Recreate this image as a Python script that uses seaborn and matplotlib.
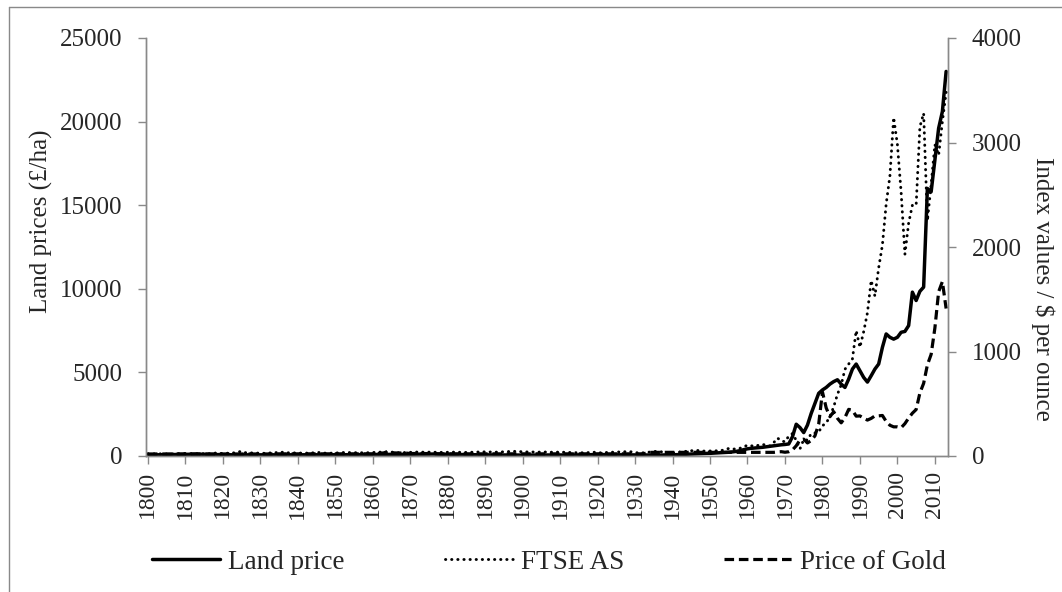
import matplotlib
matplotlib.use("Agg")
import matplotlib.pyplot as plt
import numpy as np
import pandas as pd
import seaborn as sns
from matplotlib.lines import Line2D

# one value per year, 1800-2013
years = list(range(1800, 2014))

land_price = [
    62, 66, 70, 74, 78, 82, 86, 90, 94, 98,
    102, 105, 108, 110, 108, 102, 95, 90, 88, 86,
    82, 78, 72, 70, 71, 73, 72, 71, 71, 70,
    70, 69, 68, 68, 67, 68, 69, 70, 71, 72,
    73, 74, 74, 73, 72, 73, 74, 75, 74, 73,
    72, 73, 75, 77, 79, 81, 83, 85, 87, 89,
    91, 93, 95, 97, 99, 101, 103, 105, 107, 109,
    111, 113, 115, 117, 119, 119, 117, 114, 110, 105,
    100, 96, 92, 88, 85, 82, 79, 76, 73, 71,
    69, 67, 65, 63, 61, 59, 58, 57, 57, 56,
    56, 56, 57, 57, 58, 58, 59, 59, 60, 60,
    61, 62, 63, 64, 65, 67, 70, 75, 82, 90,
    95, 90, 82, 76, 74, 72, 70, 68, 66, 64,
    62, 60, 57, 55, 54, 55, 56, 58, 60, 62,
    70, 80, 90, 100, 110, 120, 130, 140, 150, 155,
    160, 175, 190, 200, 210, 225, 245, 275, 320, 380,
    430, 460, 480, 500, 520, 550, 580, 610, 640, 670,
    690, 720, 1150, 1900, 1700, 1400, 1850, 2550, 3150, 3750,
    3950, 4100, 4300, 4450, 4560, 4300, 4100, 4600, 5200, 5500,
    5100, 4700, 4420, 4800, 5200, 5500, 6500, 7300, 7100, 6990,
    7100, 7400, 7450, 7800, 9800, 9300, 9850, 10100, 16000, 15800,
    17700, 19600, 20600, 23000,
]

ftse_as = [
    22, 21, 20, 21, 20, 19, 20, 21, 22, 23,
    24, 23, 22, 21, 23, 22, 20, 24, 28, 25,
    24, 26, 28, 30, 38, 45, 32, 30, 29, 28,
    27, 26, 28, 30, 32, 34, 36, 31, 30, 29,
    27, 26, 27, 28, 30, 34, 33, 28, 26, 27,
    28, 30, 33, 34, 32, 31, 32, 31, 30, 32,
    34, 36, 37, 38, 37, 38, 32, 31, 32, 33,
    35, 37, 38, 37, 36, 37, 36, 34, 33, 34,
    36, 37, 36, 35, 34, 34, 35, 37, 38, 40,
    39, 38, 37, 37, 38, 40, 42, 44, 44, 42,
    40, 39, 39, 38, 37, 37, 38, 37, 36, 37,
    37, 36, 35, 34, 32, 30, 31, 32, 33, 36,
    32, 30, 33, 35, 36, 38, 38, 40, 42, 40,
    34, 28, 30, 34, 38, 42, 46, 40, 36, 32,
    30, 34, 38, 42, 46, 50, 54, 52, 48, 46,
    48, 52, 48, 52, 62, 72, 66, 68, 74, 90,
    102, 98, 92, 104, 110, 105, 96, 128, 172, 145,
    136, 190, 215, 150, 68, 158, 152, 214, 220, 230,
    290, 315, 380, 470, 590, 680, 830, 880, 930, 1200,
    1040, 1190, 1370, 1680, 1530, 1800, 2020, 2410, 2680, 3240,
    2980, 2520, 1930, 2230, 2400, 2400, 3150, 3280, 2250, 2600,
    2980, 2880, 3200, 3480,
]

gold_price = [
    19.39, 19.39, 19.39, 19.39, 19.39, 19.39, 19.39, 19.39, 19.39, 19.39,
    19.39, 19.39, 19.39, 19.39, 19.39, 19.39, 19.39, 19.39, 19.39, 19.39,
    19.39, 19.39, 19.39, 19.39, 19.39, 19.39, 19.39, 19.39, 19.39, 19.39,
    19.39, 19.39, 19.39, 19.39, 20.67, 20.67, 20.67, 20.67, 20.67, 20.67,
    20.67, 20.67, 20.67, 20.67, 20.67, 20.67, 20.67, 20.67, 20.67, 20.67,
    20.67, 20.67, 20.67, 20.67, 20.67, 20.67, 20.67, 20.67, 20.67, 20.67,
    20.67, 20.67, 25.2, 30.4, 42.5, 31.7, 29.2, 28.6, 29.0, 27.6,
    23.8, 23.2, 23.6, 23.6, 23.3, 23.7, 23.1, 21.8, 20.9, 20.67,
    20.67, 20.67, 20.67, 20.67, 20.67, 20.67, 20.67, 20.67, 20.67, 20.67,
    20.67, 20.67, 20.67, 20.67, 20.67, 20.67, 20.67, 20.67, 20.67, 20.67,
    20.67, 20.67, 20.67, 20.67, 20.67, 20.67, 20.67, 20.67, 20.67, 20.67,
    20.67, 20.67, 20.67, 20.67, 20.67, 20.67, 20.67, 20.67, 20.67, 20.67,
    20.67, 20.67, 20.67, 20.67, 20.67, 20.67, 20.67, 20.67, 20.67, 20.67,
    20.67, 20.67, 20.67, 26.33, 34.69, 35.0, 35.0, 35.0, 35.0, 35.0,
    35.0, 35.0, 35.0, 35.0, 35.0, 35.0, 35.0, 35.0, 35.0, 35.0,
    35.0, 35.0, 35.0, 35.0, 35.0, 35.0, 35.0, 35.0, 35.0, 35.0,
    35.27, 35.25, 35.23, 35.09, 35.10, 35.12, 35.13, 34.95, 39.31, 41.28,
    36.02, 40.62, 58.42, 97.39, 154.0, 160.9, 124.8, 147.7, 193.2, 306.7,
    612.6, 460.0, 375.9, 424.0, 360.7, 317.4, 367.5, 446.5, 437.0, 381.4,
    383.5, 362.1, 343.8, 359.8, 384.0, 384.2, 387.8, 331.0, 294.2, 278.9,
    279.1, 271.0, 309.7, 363.4, 409.7, 444.7, 603.5, 695.4, 871.9, 972.4,
    1224.5, 1571.5, 1668.9, 1411.2,
]

df = pd.DataFrame({
    "year": years,
    "land": land_price,
    "ftse": ftse_as,
    "gold": gold_price,
})

sns.set_style("white")
plt.rcParams["font.family"] = ["Liberation Serif", "DejaVu Serif"]

axis_grey = "#898989"
fs = 18

fig = plt.figure(figsize=(10.62, 5.92), dpi=100)
ax = fig.add_axes([146 / 1062, 1 - 456 / 592, 802 / 1062, 418 / 592])
ax2 = ax.twinx()

sns.lineplot(data=df, x="year", y="land", ax=ax, color="black",
             linewidth=2.5, label="Land price", legend=False)
sns.lineplot(data=df, x="year", y="ftse", ax=ax2, color="black",
             linewidth=2.1, linestyle=(0, (0.1, 2.0)), dash_capstyle="round",
             label="FTSE AS", legend=False)
sns.lineplot(data=df, x="year", y="gold", ax=ax2, color="black",
             linewidth=2.3, linestyle=(0, (3, 1.5)),
             label="Price of Gold", legend=False)

ax.set_xlim(1799.5, 2013.5)
ax.set_ylim(0, 25000)
ax2.set_ylim(0, 4000)
ax.set_xticks(range(1800, 2011, 10))
ax.set_yticks(range(0, 25001, 5000))
ax2.set_yticks(range(0, 4001, 1000))

for a in (ax, ax2):
    a.spines["top"].set_visible(False)
    for s in a.spines.values():
        s.set_color(axis_grey)
        s.set_linewidth(1.0)

ax.tick_params(axis="x", bottom=True, length=6, width=1, color=axis_grey,
               labelsize=fs - 1, pad=5, labelrotation=90)
ax.tick_params(axis="y", left=True, length=6, width=1, color=axis_grey,
               labelsize=fs, pad=11)
ax2.tick_params(axis="y", right=True, length=6, width=1, color=axis_grey,
                labelsize=fs, pad=11)

ax.set_xlabel("")
ax.set_ylabel("Land prices (£/ha)", fontsize=fs, labelpad=5, y=0.561)
ax2.set_ylabel(r"Index values / \$ per ounce", fontsize=fs, rotation=270,
               labelpad=24, y=0.40)

handles = ax.get_lines() + ax2.get_lines()
fig.legend(handles, ["Land price", "FTSE AS", "Price of Gold"],
           loc="center", bbox_to_anchor=(0.517, 0.05), ncol=3, frameon=False,
           fontsize=19.5, handlelength=2.5, handletextpad=0.3,
           columnspacing=3.7)

# chart-area border (only left and top edges are inside the picture)
fig.add_artist(Line2D([9 / 1062, 9 / 1062], [0, 1 - 7 / 592],
                      transform=fig.transFigure, color=axis_grey, lw=1))
fig.add_artist(Line2D([9 / 1062, 1], [1 - 7 / 592, 1 - 7 / 592],
                      transform=fig.transFigure, color=axis_grey, lw=1))

fig.savefig("out.png", dpi=100)
plt.close(fig)
